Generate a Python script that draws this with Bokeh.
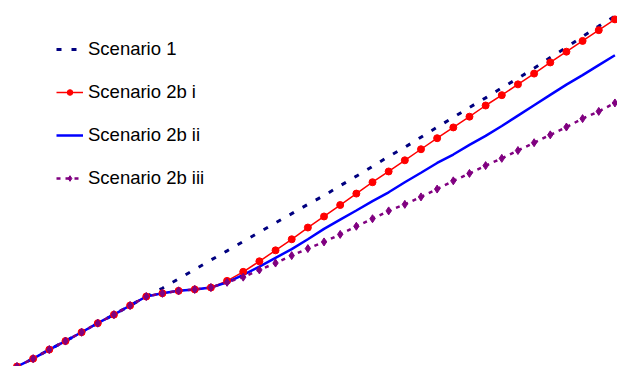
from bokeh.plotting import figure
from bokeh.models import Range1d, Legend, LegendItem
from bokeh.embed import file_html
from bokeh.resources import INLINE

# x: period index; y: level
steps = list(range(39))

shared = [18, 26, 34, 43.3, 52, 61, 70.3, 79, 88.3, 97.5, 100.8, 103.3, 104.8, 106.7]

scenario_1 = shared[:10] + [106, 115.6, 125.2, 134.8, 144.2, 153.7, 163.2, 172.8, 182.2,
                            191.7, 200.7, 210.7, 220.5, 230.5, 240.6, 250, 260.3, 270.6,
                            280.5, 290.7, 300.5, 310.7, 320.5, 330.7, 341.7, 352, 363.2,
                            373.8, 384]
scenario_2b_i = shared + [113.5, 122.7, 133.5, 144.7, 156, 168, 179.3, 191, 202.7, 214.3,
                          225.3, 236.7, 248, 259.3, 270.3, 281.3, 292.7, 303.3, 314.3,
                          325.3, 336.7, 347.7, 358.7, 369.7, 380.7]
scenario_2b_ii = shared + [112, 119.7, 128, 137, 146, 156, 166.6, 176, 185.4, 195, 204,
                           214.3, 224, 234, 242.6, 252.4, 261.7, 271.7, 282.4, 293, 303.6,
                           314, 323.8, 334, 344]
scenario_2b_iii = shared + [112, 117.3, 124.7, 131.7, 139.3, 146.5, 153.3, 161, 169.3, 177,
                            185, 191.7, 199.3, 207.3, 215.7, 223.3, 231.3, 238.7, 246.7,
                            254.7, 262.7, 270.7, 279.3, 286.7, 295.3]

labels = ["Scenario 1", "Scenario 2b i", "Scenario 2b ii", "Scenario 2b iii"]

p = figure(width=617, height=366, output_backend="svg", toolbar_location=None,
           x_range=Range1d(-0.02, 38.16), y_range=Range1d(26, 400),
           min_border=0, min_border_left=0, min_border_right=0,
           min_border_top=0, min_border_bottom=0)
p.xaxis.visible = False
p.yaxis.visible = False
p.grid.visible = False
p.outline_line_color = None
p.background_fill_color = "white"
p.border_fill_color = "white"

r1 = p.line(steps, scenario_1, line_color="#000080", line_width=3, line_dash="5 10")
r2l = p.line(steps, scenario_2b_i, line_color="#ff0000", line_width=1.5)
r3 = p.line(steps, scenario_2b_ii, line_color="#0000ff", line_width=2.5)
r4l = p.line(steps, scenario_2b_iii, line_color="#800080", line_width=2.5, line_dash="4 5")
r2m = p.scatter(steps, scenario_2b_i, marker="circle", size=7,
                fill_color="#ff0000", line_color="#ff0000")
r4m = p.scatter(steps, scenario_2b_iii, marker="diamond", size=8,
                fill_color="#800080", line_color="#800080")

legend = Legend(items=[
    LegendItem(label=labels[0], renderers=[r1]),
    LegendItem(label=labels[1], renderers=[r2l, r2m]),
    LegendItem(label=labels[2], renderers=[r3]),
    LegendItem(label=labels[3], renderers=[r4l, r4m]),
], location=(56, 176))
legend.border_line_color = None
legend.background_fill_alpha = 0
legend.padding = 0
legend.margin = 0
legend.spacing = 19
legend.glyph_width = 27
legend.glyph_height = 14
legend.label_height = 24
legend.label_standoff = 5
legend.label_text_font = "Liberation Sans"
legend.label_text_font_size = "18.5px"
legend.label_text_color = "#000000"
p.add_layout(legend)

open("out.html", "w").write(file_html(p, INLINE))
